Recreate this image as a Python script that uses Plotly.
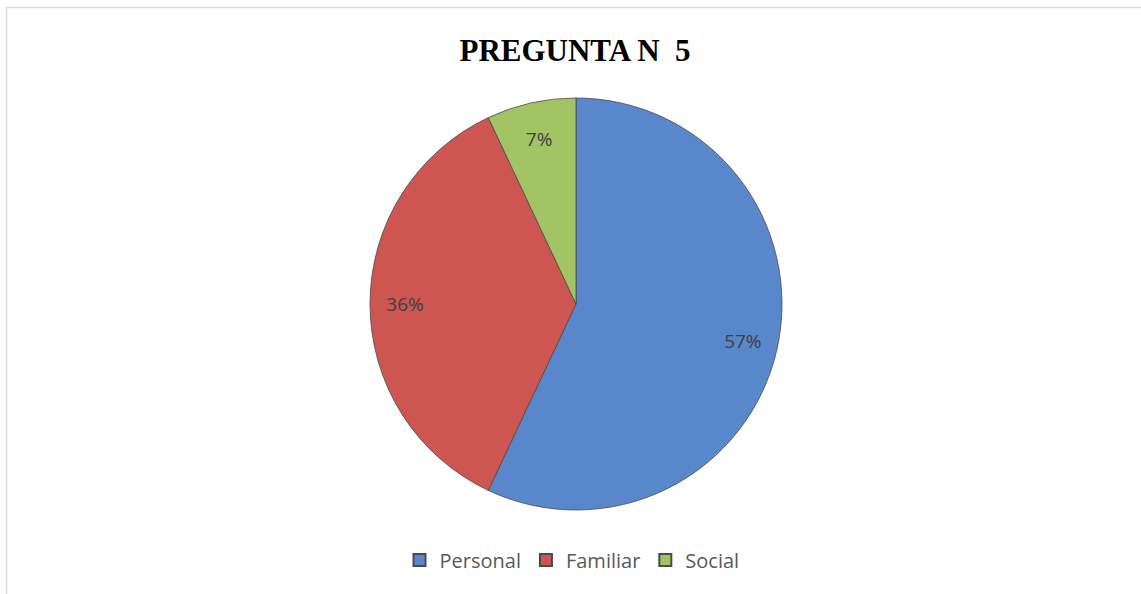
import plotly.graph_objects as go

categories = ["Personal", "Familiar", "Social"]
values = [57, 36, 7]
colors = ["#5887CB", "#CD5552", "#A3C465"]

W, H = 1141, 594
cx, cy, r = 576, 304, 206

dom = dict(x=[(cx - r) / W, (cx + r) / W], y=[1 - (cy + r) / H, 1 - (cy - r) / H])
lbl_font = dict(family="Open Sans, Liberation Sans, sans-serif", size=19, color="#404040")
pct = "%{percent:.0%}"

fig = go.Figure()
# main pie (label for the small slice only)
fig.add_trace(go.Pie(
    labels=categories,
    values=values,
    sort=False,
    direction="clockwise",
    rotation=0,
    marker=dict(colors=colors, line=dict(color="#4a4a4a", width=0.8)),
    texttemplate=["", "", pct],
    textposition="inside",
    insidetextorientation="horizontal",
    textfont=lbl_font,
    domain=dom,
    showlegend=True,
    hoverinfo="label+percent",
))
# transparent ring overlay to place the large-slice labels further out
fig.add_trace(go.Pie(
    labels=categories,
    values=values,
    sort=False,
    direction="clockwise",
    rotation=0,
    hole=0.66,
    marker=dict(colors=["rgba(0,0,0,0)"] * 3, line=dict(width=0)),
    texttemplate=[pct, pct, ""],
    textposition="inside",
    insidetextorientation="horizontal",
    textfont=lbl_font,
    domain=dom,
    showlegend=False,
    hoverinfo="skip",
))

fig.update_layout(
    width=W, height=H,
    margin=dict(l=0, r=0, t=0, b=0),
    paper_bgcolor="white",
    title=dict(text="<b>PREGUNTA N  5</b>", x=575 / W, xanchor="center", y=1 - 50 / H,
               yanchor="middle",
               font=dict(family="Liberation Serif, Times New Roman, serif", size=31, color="black")),
    legend=dict(orientation="h", x=572 / W, xanchor="center", y=1 - 560 / H, yanchor="middle",
                font=dict(family="Open Sans, Liberation Sans, sans-serif", size=20, color="#595959"),
                itemsizing="constant", traceorder="normal"),
    shapes=[
        dict(type="line", xref="paper", yref="paper", x0=6.5 / W, x1=1, y0=1 - 7.5 / H, y1=1 - 7.5 / H,
             line=dict(color="#D9D9D9", width=1.5)),
        dict(type="line", xref="paper", yref="paper", x0=6.5 / W, x1=6.5 / W, y0=0, y1=1 - 7.5 / H,
             line=dict(color="#D9D9D9", width=1.5)),
    ],
)

fig.write_html("out.html",
               config={"displayModeBar": False},
               post_script="document.body.style.margin='0px';document.body.style.overflow='hidden';")
